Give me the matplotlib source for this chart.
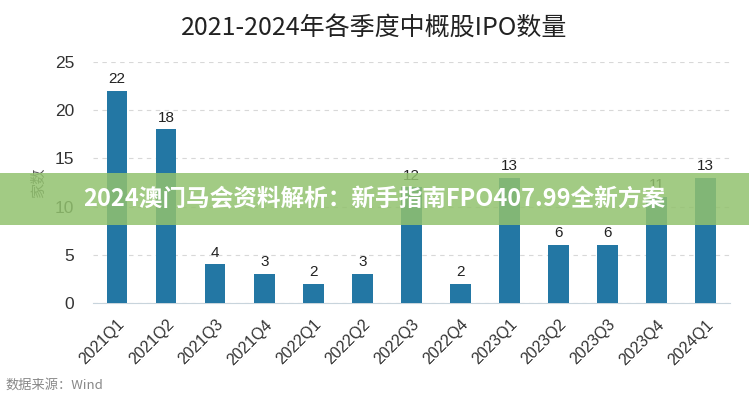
import matplotlib
matplotlib.use("Agg")
import matplotlib.pyplot as plt
from matplotlib.patches import Rectangle

plt.rcParams['font.family'] = ['Liberation Sans', 'Noto Sans CJK SC', 'DejaVu Sans']

quarters = ["2021Q1", "2021Q2", "2021Q3", "2021Q4", "2022Q1", "2022Q2", "2022Q3",
            "2022Q4", "2023Q1", "2023Q2", "2023Q3", "2023Q4", "2024Q1"]
counts = [22, 18, 4, 3, 2, 3, 12, 2, 13, 6, 6, 11, 13]
yticks = [0, 5, 10, 15, 20, 25]
title = "2021-2024年各季度中概股IPO数量"
ylabel = "家数"
source = "数据来源：Wind"
banner = "2024澳门马会资料解析：新手指南FPO407.99全新方案"

fig = plt.figure(figsize=(7.49, 4.00), dpi=100)
ax = fig.add_axes([0.1235, 0.2425, 0.8515, 0.6025])

x = list(range(len(quarters)))
ax.bar(x, counts, width=0.42, color="#2377a4", zorder=3)
for xi, v in zip(x, counts):
    ax.text(xi, v + 0.5, str(v), ha="center", va="bottom", fontsize=11, color="#222222", zorder=4)

ax.set_xlim(-0.5, len(quarters) - 0.5)
ax.set_ylim(0, 25)
ax.set_yticks(yticks)
ax.set_yticklabels([str(t) for t in yticks], fontsize=12.5, color="#333333")
ax.set_xticks(x)
ax.set_xticklabels(quarters, rotation=45, ha="right", rotation_mode="anchor", fontsize=11.5, color="#333333")
ax.tick_params(axis="both", length=0)
ax.tick_params(axis="y", pad=13)
ax.tick_params(axis="x", pad=10)
ax.yaxis.grid(True, linestyle=(0, (4, 4)), color="#d8d8d8", linewidth=0.8, zorder=0)
for s in ["top", "right", "left"]:
    ax.spines[s].set_visible(False)
ax.spines["bottom"].set_color("#c8d4dc")
ax.set_ylabel(ylabel, fontsize=11, color="#555555", family=['Noto Sans CJK SC'], labelpad=6)

fig.text(0.5, 0.93, title, ha="center", va="center", fontsize=18, color="#222222",
         family=['Noto Sans CJK SC', 'DejaVu Sans'])
fig.text(0.007, 0.037, source, ha="left", va="center", fontsize=9.5, color="#888888",
         family=['Noto Sans CJK SC', 'DejaVu Sans'])

# overlay banner
fig.patches.append(Rectangle((0, 1 - 225 / 400), 1, 52 / 400, transform=fig.transFigure,
                             facecolor="#92c26e", alpha=0.85, zorder=10))
fig.text(0.5, 1 - 199 / 400, banner, ha="center", va="center", fontsize=17, color="white",
         fontweight="bold", family=['Noto Sans CJK SC', 'DejaVu Sans'], zorder=11)

fig.savefig("out.png", dpi=100)
